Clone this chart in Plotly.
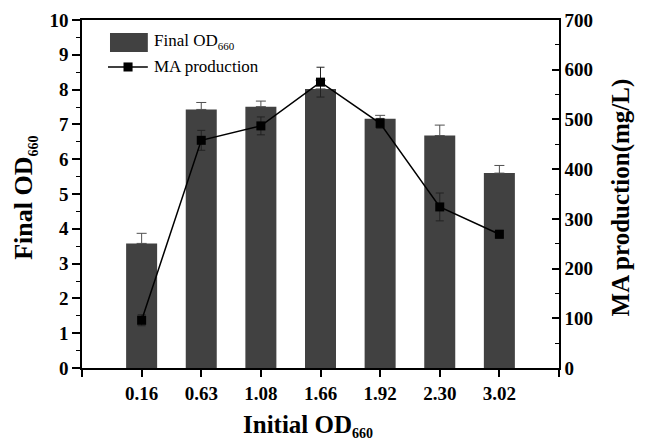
import plotly.graph_objects as go

categories = ["0.16", "0.63", "1.08", "1.66", "1.92", "2.30", "3.02"]
final_od = [3.58, 7.43, 7.51, 8.02, 7.16, 6.68, 5.60]
final_od_err = [0.29, 0.20, 0.16, 0.25, 0.10, 0.30, 0.22]
ma_prod = [96, 458, 487, 575, 492, 324, 269]
ma_err = [11, 20, 18, 30, 10, 28, 8]

xpos = list(range(len(categories)))
FONT = "Liberation Serif, Times New Roman, serif"
BAR_C = "#414141"

fig = go.Figure()
fig.add_trace(go.Bar(
    x=xpos, y=final_od, width=0.52, name="Final OD<sub>660</sub>",
    marker=dict(color=BAR_C, line=dict(width=0)),
    error_y=dict(type="data", array=final_od_err, symmetric=False,
                 arrayminus=[0]*len(final_od_err), color="#505050", thickness=1, width=5),
    yaxis="y", showlegend=False,
))
fig.add_trace(go.Scatter(
    x=xpos, y=ma_prod, name="MA production", mode="lines+markers",
    line=dict(color="black", width=1.5),
    marker=dict(symbol="square", size=9, color="black"),
    error_y=dict(type="data", array=ma_err, color="#222222", thickness=1, width=4),
    yaxis="y2", showlegend=False,
))

# custom legend (symbols as shapes, labels as text)
fig.add_shape(type="rect", xref="paper", yref="paper", x0=0.0587, x1=0.138, y0=0.908, y1=0.963,
              fillcolor=BAR_C, line=dict(width=0))
fig.add_shape(type="line", xref="paper", yref="paper", x0=0.0545, x1=0.138, y0=0.865, y1=0.865,
              line=dict(color="black", width=1.5))
fig.add_shape(type="rect", xref="paper", yref="paper", x0=0.087, x1=0.106, y0=0.852, y1=0.878,
              fillcolor="black", line=dict(width=0))
fig.add_annotation(xref="paper", yref="paper", x=0.147, y=0.937, xanchor="left", yanchor="middle",
                   text="Final OD<sub><span style='font-size:11px'>660</span></sub>", showarrow=False,
                   font=dict(family=FONT, size=17, color="black"))
fig.add_annotation(xref="paper", yref="paper", x=0.147, y=0.865, xanchor="left", yanchor="middle",
                   text="MA production", showarrow=False,
                   font=dict(family=FONT, size=17, color="black"))

# axis titles
SUB = "<sub><span style='font-size:14px'>660</span></sub>"
fig.add_annotation(xref="paper", yref="paper", x=-0.1195, y=0.489, xanchor="center", yanchor="middle",
                   textangle=-90, text="<b>Final OD" + SUB + "</b>", showarrow=False,
                   font=dict(family=FONT, size=26, color="black"))
fig.add_annotation(xref="paper", yref="paper", x=1.132, y=0.49, xanchor="center", yanchor="middle",
                   textangle=-90, text="<b>MA production(mg/L)</b>", showarrow=False,
                   font=dict(family=FONT, size=25, color="black"))
fig.add_annotation(xref="paper", yref="paper", x=0.474, y=-0.118, xanchor="center", yanchor="top",
                   text="<b>Initial OD" + SUB + "</b>", showarrow=False,
                   font=dict(family=FONT, size=25, color="black"))

tickfont = dict(family=FONT, size=19, color="black")
fig.update_layout(
    width=638, height=436,
    margin=dict(l=74, r=87, t=12, b=76),
    plot_bgcolor="white", paper_bgcolor="white",
    showlegend=False,
    xaxis=dict(
        range=[-1, 7], tickmode="array",
        tickvals=[-1] + xpos + [7], ticktext=[""] + ["<b>%s</b>" % c for c in categories] + [""],
        ticks="outside", ticklen=7, tickwidth=1.5, tickcolor="black",
        showline=True, linecolor="black", linewidth=1.5, mirror=True,
        showgrid=False, zeroline=False, tickfont=tickfont, automargin=False,
    ),
    yaxis=dict(
        range=[0, 10], dtick=1, ticks="outside", ticklen=8, tickwidth=1.5, tickcolor="black",
        minor=dict(dtick=0.5, ticks="outside", ticklen=4, tickcolor="black", tickwidth=1),
        showline=True, linecolor="black", linewidth=1.5,
        showgrid=False, zeroline=False, tickfont=tickfont, automargin=False,
        tickprefix="<b>", ticksuffix="</b>",
    ),
    yaxis2=dict(
        range=[0, 700], dtick=100, overlaying="y", side="right",
        ticks="inside", ticklen=7, tickwidth=1.5, tickcolor="black",
        minor=dict(dtick=50, ticks="inside", ticklen=4, tickcolor="black", tickwidth=1),
        showline=True, linecolor="black", linewidth=1.5,
        showgrid=False, zeroline=False, tickfont=tickfont, automargin=False,
        tickprefix="<b>", ticksuffix="</b>",
    ),
)
fig.write_html("out.html")
